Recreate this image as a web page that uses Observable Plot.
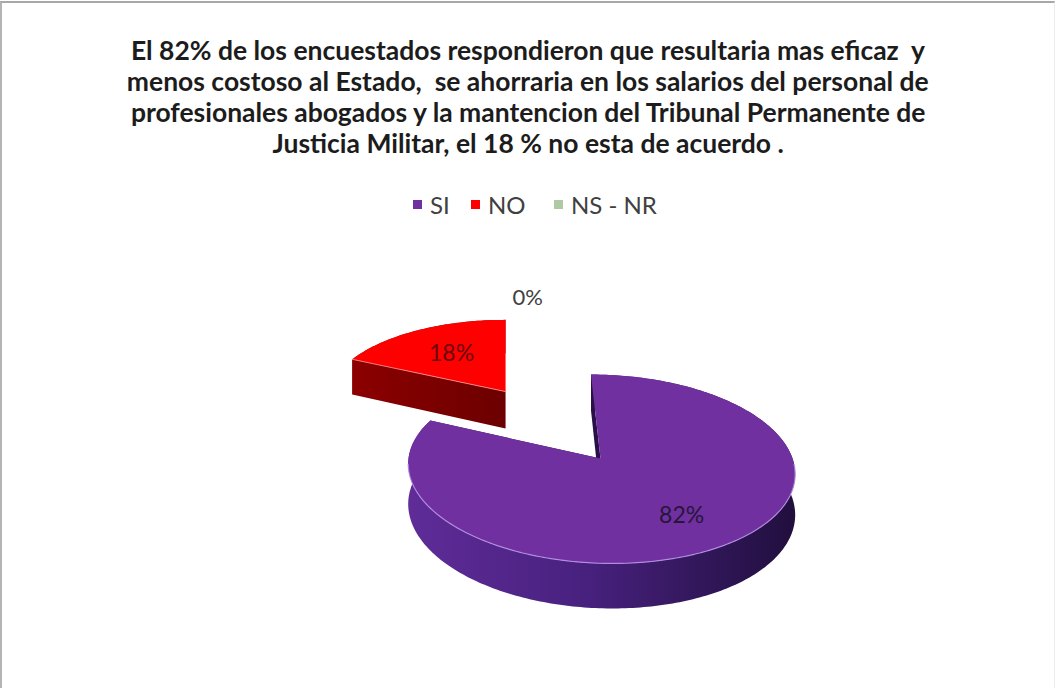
<!DOCTYPE html>
<html>
<head>
<meta charset="utf-8">
<script src="https://cdn.jsdelivr.net/npm/d3@7"></script>
<script src="https://cdn.jsdelivr.net/npm/@observablehq/plot@0.6"></script>
<style>
  body { margin: 0; background: #fff; }
  #wrap { position: relative; width: 1056px; height: 688px; overflow: hidden; background: #fff; font-family: Lato, "Open Sans", sans-serif; }
  #frame { position: absolute; left: 0; top: 1px; width: 1052px; height: 700px; border-top: 2px solid #a8a8a8; border-left: 2px solid #b4b4b4; border-right: 1px solid #ececec; pointer-events: none; }
  #title { position: absolute; top: 35px; left: 0; width: 1056px; text-align: center; font-weight: bold; font-size: 26px; line-height: 31px; color: #1c1c1c; }
  #title .tl span { display: inline-block; white-space: pre; transform-origin: 50% 50%; }
  #legend { position: absolute; top: 190px; left: 0; width: 1056px; height: 28px; font-size: 24px; color: #404040; }
  #legend .item { position: absolute; top: 0; height: 28px; display: flex; align-items: center; }
  #legend .sw { width: 9px; height: 9px; margin-right: 8px; }
  #chart { position: absolute; top: 225px; left: 0; }
</style>
</head>
<body>
<div id="wrap">
  <div id="title"></div>
  <div id="legend"></div>
  <div id="chart"></div>
  <div id="frame"></div>
</div>
<script>
// ---- data ----
const titleLines = [
  "El 82% de los encuestados respondieron que resultaria mas eficaz  y",
  "menos costoso al Estado,  se ahorraria en los salarios del personal de",
  "profesionales abogados y la mantencion del Tribunal Permanente de",
  "Justicia Militar, el 18 % no esta de acuerdo ."
];
const categories = ["SI", "NO", "NS - NR"];
const values = [82, 18, 0];
const labels = ["82%", "18%", "0%"];
const palette = ["#7030A0", "#FF0000", "#AFC9A4"];

// ---- title ----
const titleEl = document.getElementById("title");
titleLines.forEach(t => {
  const d = document.createElement("div");
  d.className = "tl";
  const s = document.createElement("span");
  s.textContent = t;
  d.appendChild(s);
  titleEl.appendChild(d);
});
const spans = titleEl.querySelectorAll("span");
const k = 794 / spans[0].getBoundingClientRect().width;
spans.forEach(s => s.style.transform = `scaleX(${k})`);

// ---- legend ----
const legendLeft = [413, 471, 554];
const legendEl = document.getElementById("legend");
categories.forEach((c, i) => {
  const it = document.createElement("div");
  it.className = "item";
  it.style.left = legendLeft[i] + "px";
  it.innerHTML = `<div class="sw" style="background:${palette[i]}"></div><span>${c}</span>`;
  legendEl.appendChild(it);
});

// ---- 3D pie geometry ----
const W = 1056, H = 463;
const RX = 192, RY = 93.3, DEPTH = 40, K = 0.111;
const CX = 600, CY = 458 - 225;          // pie centre within the svg
const VX = (505 - CX) / RX;               // horizontal vanishing offset (radius units)
const explode = [0, 0.923, 0.923];
const labelR = [0.68, 0.6, 1.35];

function proj(u, v, z) {
  const s = 1 / (1 - K * v);
  return {x: VX + (u - VX) * s, y: (v * RY / RX + z / RX) * s};
}
function arcPts(a0, a1, ou, ov, z) {
  const n = Math.max(2, Math.ceil((a1 - a0) / (Math.PI / 180)));
  return d3.range(n + 1).map(i => {
    const a = a0 + (a1 - a0) * i / n;
    return proj(ou + Math.sin(a), ov - Math.cos(a), z);
  });
}

const arcs = d3.pie().sort(null).value(d => d)(values);
const offsets = [];
const slices = arcs.map((a, i) => {
  const mid = (a.startAngle + a.endAngle) / 2;
  let ou = explode[i] * Math.sin(mid), ov = -explode[i] * Math.cos(mid);
  if (values[i] <= 0 && i > 0) { ou = offsets[i - 1][0]; ov = offsets[i - 1][1]; }
  offsets.push([ou, ov]);
  const a0 = a.startAngle, a1 = a.endAngle;
  const rim = (ang, z) => proj(ou + Math.sin(ang), ov - Math.cos(ang), z);
  const apex0 = proj(ou, ov, 0), apexD = proj(ou, ov, DEPTH);
  const topArc = arcPts(a0, a1, ou, ov, 0);
  const wall = topArc.concat(arcPts(a0, a1, ou, ov, DEPTH).reverse());
  const cut0 = [apex0, rim(a0, 0), rim(a0, DEPTH), apexD];
  const cut1 = [apex0, rim(a1, 0), rim(a1, DEPTH), apexD];
  const top = [apex0, ...topArc, apex0];
  const r = labelR[i];
  const lab = proj(ou + r * Math.sin(mid), ov - r * Math.cos(mid), 0);
  const front = arcPts(Math.max(a0, Math.PI * 0.52), Math.min(a1, Math.PI * 1.48), ou, ov, 0);
  return {i, value: values[i], wall, cut0, cut1, top, lab, front, apex0, c0: rim(a0, 0)};
});

const xDom = [(0 - CX) / RX, (W - CX) / RX];
const yDom = [(0 - CY) / RX, (H - CY) / RX];

const sideFill = ["url(#pSide)", "url(#rSide)", "#8aa380"];
const cutFill = ["#2a1048", "url(#rSide)", "#8aa380"];
const edgeCol = ["#b894e6", "#ff8a8a", "#ffffff"];
const labCol = ["#27163a", "#6a0808", "#404040"];

const marks = [];
// back-to-front: exploded NO slice first, then SI
[1, 0].forEach(i => {
  const s = slices[i];
  if (s.value <= 0) return;
  marks.push(Plot.line(s.wall, {x: "x", y: "y", fill: sideFill[i], stroke: "none"}));
  marks.push(Plot.line(s.cut1, {x: "x", y: "y", fill: cutFill[i], stroke: "none"}));
  marks.push(Plot.line(s.cut0, {x: "x", y: "y", fill: i === 0 ? cutFill[i] : sideFill[i], stroke: "none"}));
  marks.push(Plot.line(s.top, {x: "x", y: "y", fill: palette[i], stroke: "none"}));
  if (i === 0) marks.push(Plot.line(s.front, {x: "x", y: "y", stroke: edgeCol[i], strokeWidth: 1.2, strokeOpacity: 0.85}));
  else marks.push(Plot.line([s.c0, s.apex0], {x: "x", y: "y", stroke: edgeCol[i], strokeWidth: 1, strokeOpacity: 0.9}));
});
const labData = slices.map(s => ({x: s.lab.x, y: s.lab.y, t: labels[s.i], c: labCol[s.i], zero: s.value <= 0}));
marks.push(Plot.text(labData.filter(d => !d.zero), {x: "x", y: "y", text: "t", fill: d => d.c, fontSize: 23, fontFamily: "Lato"}));
marks.push(Plot.text(labData.filter(d => d.zero), {x: "x", y: "y", text: "t", fill: d => d.c, fontSize: 22, fontFamily: "Lato", textAnchor: "start", dx: 7}));

const svg = Plot.plot({
  width: W, height: H, margin: 0,
  x: {domain: xDom, range: [0, W], axis: null},
  y: {domain: yDom, range: [0, H], axis: null},
  color: {type: "identity"},
  style: {background: "transparent", overflow: "visible"},
  marks
});

const ns = "http://www.w3.org/2000/svg";
const defs = document.createElementNS(ns, "defs");
defs.innerHTML = `
  <linearGradient id="pSide" x1="0" y1="0" x2="1" y2="0">
    <stop offset="0" stop-color="#5f2c98"/>
    <stop offset="0.45" stop-color="#48217f"/>
    <stop offset="1" stop-color="#210f3e"/>
  </linearGradient>
  <linearGradient id="rSide" x1="0" y1="0" x2="1" y2="0">
    <stop offset="0" stop-color="#8c0000"/>
    <stop offset="1" stop-color="#6c0000"/>
  </linearGradient>`;
svg.insertBefore(defs, svg.firstChild);
document.getElementById("chart").appendChild(svg);
</script>
</body>
</html>
